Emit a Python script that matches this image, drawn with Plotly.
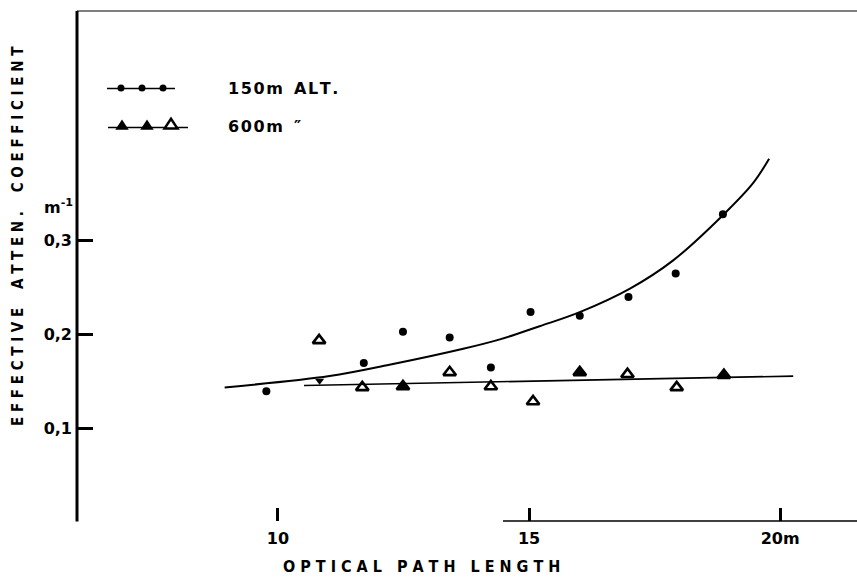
import plotly.graph_objects as go

# ---- data ----
x_150 = [9.77, 10.83, 11.71, 12.49, 13.42, 14.24, 15.03, 16.01, 16.98, 17.92, 18.86]
y_150 = [0.140, 0.151, 0.170, 0.203, 0.197, 0.165, 0.224, 0.220, 0.240, 0.265, 0.328]
sym_150 = ["circle", "triangle-down", "circle", "circle", "circle", "circle",
           "circle", "circle", "circle", "circle", "circle"]

x_600 = [10.82, 11.68, 12.49, 13.42, 14.24, 15.08, 16.01, 16.96, 17.94, 18.88]
y_600 = [0.194, 0.144, 0.145, 0.160, 0.145, 0.129, 0.160, 0.158, 0.144, 0.157]
sym_600 = ["triangle-up-open", "triangle-up-open", "triangle-up", "triangle-up-open",
           "triangle-up-open", "triangle-up-open", "triangle-up", "triangle-up-open",
           "triangle-up-open", "triangle-up"]

fit150_x = [8.94, 11.03, 12.22, 13.69, 14.42, 15.21, 16.01, 17.01, 17.87, 18.86, 19.46, 19.78]
fit150_y = [0.144, 0.156, 0.168, 0.185, 0.195, 0.209, 0.224, 0.249, 0.279, 0.327, 0.361, 0.387]

fit600_x = [10.52, 20.26]
fit600_y = [0.146, 0.156]

x_ticks = [10, 15, 20]
x_ticklabels = ["10", "15", "20m"]
y_ticks = [0.1, 0.2, 0.3]
y_ticklabels = ["0,1", "0,2", "0,3"]

HS = "\u200a"  # hair space used as letter spacing
legend_labels = [HS.join("150m") + "  " + HS.join("ALT."),
                 HS.join("600m") + "  \u2033"]

# ---- layout geometry ----
W, H = 857, 578
L, T, B, R = 77, 11, 57, 0
PW, PH = W - L - R, H - T - B

def px(xp):
    return (xp - L) / PW

def py(yp):
    return 1 - (yp - T) / PH

TXT = "Liberation Sans Narrow, DejaVu Sans Condensed, Arial Narrow, sans-serif"
NUM = "DejaVu Sans, Verdana, sans-serif"

fig = go.Figure()

fig.add_trace(go.Scatter(x=fit150_x, y=fit150_y, mode="lines",
                         line=dict(color="black", width=2, shape="spline", smoothing=1.0),
                         hoverinfo="skip", showlegend=False))
fig.add_trace(go.Scatter(x=fit600_x, y=fit600_y, mode="lines",
                         line=dict(color="black", width=1.6),
                         hoverinfo="skip", showlegend=False))
fig.add_trace(go.Scatter(x=x_150, y=y_150, mode="markers", name="150m ALT.",
                         marker=dict(symbol=sym_150, size=8, color="black",
                                     line=dict(width=0)),
                         showlegend=False))
fig.add_trace(go.Scatter(x=x_600, y=y_600, mode="markers", name="600m",
                         marker=dict(symbol=sym_600, size=11, color="black",
                                     line=dict(width=2.6, color="black")),
                         showlegend=False))

shapes = []
# left axis (thick), top frame line, partial bottom axis line
shapes.append(dict(type="line", xref="paper", yref="paper", x0=0, x1=0, y0=py(521.5), y1=1,
                   line=dict(color="black", width=3)))
shapes.append(dict(type="line", xref="paper", yref="paper", x0=0, x1=1, y0=1, y1=1,
                   line=dict(color="black", width=1.2)))
shapes.append(dict(type="line", xref="paper", yref="paper", x0=px(503), x1=1, y0=0, y1=0,
                   line=dict(color="black", width=1.5)))

# legend samples
shapes.append(dict(type="line", xref="paper", yref="paper", x0=px(107), x1=px(175),
                   y0=py(88.5), y1=py(88.5), line=dict(color="black", width=1.5)))
for cx in (121, 142, 163):
    shapes.append(dict(type="circle", xref="paper", yref="paper",
                       xsizemode="pixel", ysizemode="pixel",
                       xanchor=px(cx), yanchor=py(88), x0=-3.5, x1=3.5, y0=-3.5, y1=3.5,
                       fillcolor="black", line=dict(width=0)))
shapes.append(dict(type="line", xref="paper", yref="paper", x0=px(108), x1=px(188),
                   y0=py(127.5), y1=py(127.5), line=dict(color="black", width=1.5)))
for cx, s, filled in ((122, 4.5, True), (147, 4.5, True), (171, 6.5, False)):
    shapes.append(dict(type="path", xref="paper", yref="paper",
                       xsizemode="pixel", ysizemode="pixel",
                       xanchor=px(cx), yanchor=py(128.5),
                       path=f"M {-s},0 L {s},0 L 0,{1.5 * s} Z",
                       fillcolor="black" if filled else "white",
                       line=dict(color="black", width=2.4)))

annotations = [
    dict(text=legend_labels[0], xref="paper", yref="paper", x=px(226), y=py(88),
         xanchor="left", yanchor="middle", showarrow=False,
         font=dict(family=NUM, size=16, color="black", weight="bold")),
    dict(text=legend_labels[1], xref="paper", yref="paper", x=px(226), y=py(127),
         xanchor="left", yanchor="middle", showarrow=False,
         font=dict(family=NUM, size=16, color="black", weight="bold")),
    dict(text="m<sup>-1</sup>", xref="paper", yref="paper", x=px(58), y=py(207),
         xanchor="center", yanchor="middle", showarrow=False,
         font=dict(family=NUM, size=16, color="black", weight="bold")),
    dict(text="E F F E C T I V E    A T T E N .    C O E F F I C I E N T",
         xref="paper", yref="paper", x=px(18), y=py(236),
         xanchor="center", yanchor="middle", textangle=-90, showarrow=False,
         font=dict(family=TXT, size=15, color="black", weight="bold")),
    dict(text="O P T I C A L   P A T H   L E N G T H",
         xref="paper", yref="paper", x=px(421), y=py(566),
         xanchor="center", yanchor="middle", showarrow=False,
         font=dict(family=TXT, size=16, color="black", weight="bold")),
]

fig.update_layout(
    width=W, height=H,
    margin=dict(l=L, r=R, t=T, b=B, pad=0),
    paper_bgcolor="white", plot_bgcolor="white",
    showlegend=False,
    shapes=shapes,
    annotations=annotations,
    xaxis=dict(range=[6.0, 21.53], showgrid=False, zeroline=False, showline=False,
               tickmode="array", tickvals=x_ticks, ticktext=x_ticklabels,
               ticks="inside", ticklen=13, tickwidth=2.5, tickcolor="black",
               ticklabelstandoff=6,
               tickfont=dict(family=NUM, size=16, color="black", weight="bold")),
    yaxis=dict(range=[0.002, 0.544], showgrid=False, zeroline=False, showline=False,
               tickmode="array", tickvals=y_ticks, ticktext=y_ticklabels,
               ticks="inside", ticklen=16, tickwidth=2.5, tickcolor="black",
               ticklabelstandoff=4,
               tickfont=dict(family=NUM, size=16, color="black", weight="bold")),
)

fig.write_html("out.html", config={"displayModeBar": False},
               post_script="document.body.style.margin='0';document.body.style.overflow='hidden';")
